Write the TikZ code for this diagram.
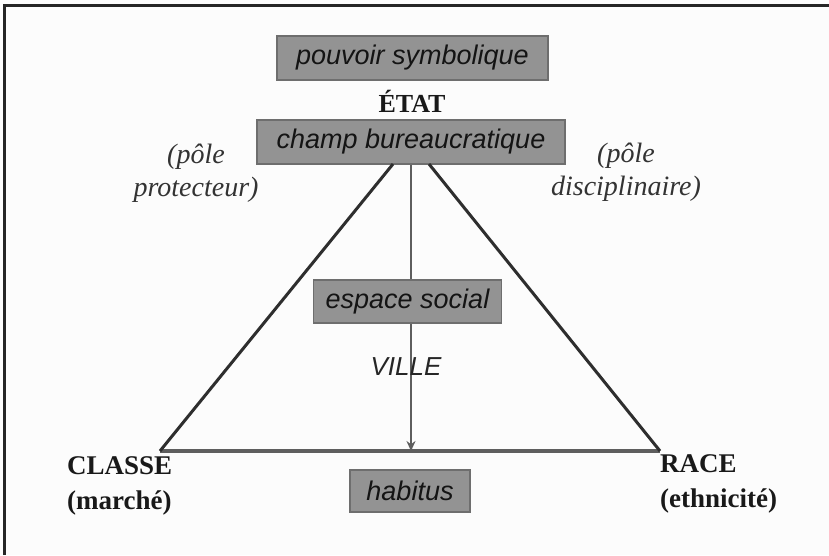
\documentclass[tikz,border=0pt]{standalone}
\usepackage{fontspec}
\setmainfont{Liberation Serif}
\setsansfont{Liberation Sans}
\usetikzlibrary{arrows.meta}
\definecolor{boxfill}{HTML}{939393}
\definecolor{boxline}{HTML}{6E6E6E}
\definecolor{bgc}{HTML}{FCFCFC}
\definecolor{linec}{HTML}{2E2E2E}
\definecolor{grayline}{HTML}{5E5E5E}
\begin{document}
\begin{tikzpicture}[x=1pt,y=-1pt,
  graybox/.style={draw=boxline,line width=1.2pt,fill=boxfill,inner sep=0pt,
    font=\sffamily\itshape\fontsize{27}{29}\selectfont,text=black!92},
  serifbold/.style={font=\bfseries\fontsize{27}{35}\selectfont,inner sep=0pt,align=left,text=black!90},
  serifit/.style={font=\itshape\fontsize{28}{33}\selectfont,inner sep=0pt,align=center,text=black!80},
  tri/.style={draw=linec,line width=3pt},
  ]
\useasboundingbox (0,0) rectangle (829,555);
\fill[bgc] (0,0) rectangle (829,555);
\draw[line width=3pt,black!85] (4,555) -- (4,5.5) -- (829,5.5);

\node[graybox,minimum width=271,minimum height=44] (pouvoir) at (412.5,58) {pouvoir symbolique};
\node[font=\bfseries\fontsize{26}{28}\selectfont,inner sep=0pt,text=black!90] (etat) at (412,101) {ÉTAT};
\node[graybox,minimum width=308,minimum height=44] (champ) at (411,142) {champ bureaucratique};

\node[serifit] (protecteur) at (196,173) {(pôle\\protecteur)};
\node[serifit] (disciplinaire) at (626,172) {(pôle\\disciplinaire)};

\coordinate (AL) at (393,164);
\coordinate (AR) at (429,164);
\coordinate (L) at (160,451);
\coordinate (R) at (660,451);
\coordinate (B) at (411,451);

\draw[draw=grayline,line width=3.4pt] (L) -- (R);
\draw[tri] (AL) -- (L);
\draw[tri] (AR) -- (R);

\draw[draw=grayline,line width=2.8pt,-{Stealth[length=10pt,width=9pt]}] (champ.south -| B) -- (B);

\node[graybox,minimum width=188,minimum height=43] (espace) at (407.5,301.5) {espace social};
\node[font=\sffamily\itshape\fontsize{26}{28}\selectfont,inner sep=0pt,text=black!85] (ville) at (406,367) {VILLE};

\node[graybox,minimum width=120,minimum height=42] (habitus) at (410,491) {habitus};

\node[serifbold,anchor=north west] (classe) at (67,456) {CLASSE\\(marché)};
\node[serifbold,anchor=north west] (race) at (660,454) {RACE\\(ethnicité)};
\end{tikzpicture}
\end{document}
